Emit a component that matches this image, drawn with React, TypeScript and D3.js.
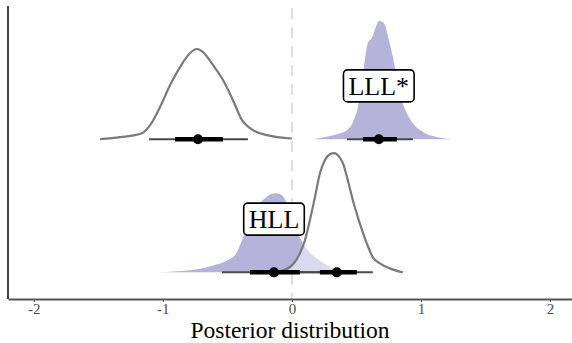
import { useEffect, useRef } from "react";
import * as d3 from "d3";

// rows on the y axis (0 = bottom)
const rowNames = ["HLL", "LLL*"];
const tickValues = [-2, -1, 0, 1, 2];
const tickLabels = ["-2", "-1", "0", "1", "2"];

// posterior densities: x in effect units, height in row units
const lllX = [0.163, 0.317, 0.426, 0.472, 0.511, 0.542, 0.565, 0.588, 0.619, 0.65, 0.673, 0.704, 0.728, 0.751, 0.782, 0.813, 0.851, 0.89, 0.937, 1.006, 1.091, 1.238];
const lllD = [0, 0.03, 0.068, 0.128, 0.241, 0.421, 0.594, 0.722, 0.759, 0.842, 0.887, 0.88, 0.835, 0.744, 0.617, 0.459, 0.293, 0.195, 0.12, 0.06, 0.023, 0];

const lllRefX = [-1.486, -1.331, -1.161, -1.099, -1.022, -0.944, -0.867, -0.789, -0.735, -0.689, -0.611, -0.534, -0.457, -0.387, -0.325, -0.194, 0];
const lllRefD = [0, 0.015, 0.045, 0.105, 0.241, 0.406, 0.541, 0.647, 0.677, 0.654, 0.556, 0.444, 0.293, 0.143, 0.083, 0.03, 0.005];

const hllX = [-1.045, -0.789, -0.658, -0.58, -0.503, -0.441, -0.387, -0.325, -0.271, -0.209, -0.132, -0.077, -0.039, 0, 0.039, 0.085, 0.139, 0.201, 0.271, 0.372, 0.488];
const hllD = [0, 0.015, 0.038, 0.06, 0.09, 0.128, 0.241, 0.391, 0.489, 0.556, 0.594, 0.579, 0.519, 0.429, 0.316, 0.218, 0.15, 0.098, 0.053, 0.015, 0];

const hllRefX = [-0.17, -0.093, 0.008, 0.062, 0.101, 0.139, 0.178, 0.217, 0.255, 0.294, 0.325, 0.356, 0.395, 0.433, 0.472, 0.526, 0.58, 0.627, 0.681, 0.759, 0.859];
const hllRefD = [0, 0.008, 0.06, 0.143, 0.241, 0.391, 0.564, 0.744, 0.842, 0.887, 0.895, 0.88, 0.82, 0.692, 0.541, 0.368, 0.218, 0.113, 0.068, 0.03, 0];

// intervals: [lo95, lo66, median, hi66, hi95]
const lllInterval = [0.426, 0.55, 0.673, 0.813, 0.937];
const lllRefInterval = [-1.107, -0.906, -0.728, -0.534, -0.341];
const hllInterval = [-0.542, -0.325, -0.139, 0.062, 0.24];
const hllRefInterval = [0.06, 0.217, 0.348, 0.503, 0.627];

const W = 572, H = 343;
const font = "'Liberation Serif', 'Times New Roman', serif";

const App = () => {
  const svgRef = useRef<SVGSVGElement>(null);

  useEffect(() => {
    if (!svgRef.current) return;
    const svg = d3.select(svgRef.current);
    svg.selectAll("*").remove();

    const m = { top: 6, right: 0, bottom: 44, left: 8 };
    const x = d3.scaleLinear().domain([-2.2, 2.17]).range([m.left, W - m.right]);
    const y = d3.scaleLinear().domain([-0.2, 2.0]).range([H - m.bottom, m.top]);

    // zero reference line
    svg.append("line")
      .attr("x1", x(0)).attr("x2", x(0))
      .attr("y1", m.top).attr("y2", H - m.bottom)
      .attr("stroke", "#dedede")
      .attr("stroke-width", 2)
      .attr("stroke-dasharray", "11 8")
      .attr("stroke-dashoffset", -2);

    const area = (row: number) => d3.area<[number, number]>()
      .x((d) => x(d[0]))
      .y0(y(row))
      .y1((d) => y(row + d[1]))
      .curve(d3.curveMonotoneX);
    const line = (row: number) => d3.line<[number, number]>()
      .x((d) => x(d[0]))
      .y((d) => y(row + d[1]))
      .curve(d3.curveMonotoneX);

    const purple = (xs: number[], ds: number[], row: number) => {
      const pts = xs.map((v, i) => [v, ds[i]] as [number, number]);
      svg.append("path").datum(pts).attr("d", area(row)).attr("fill", "#b4b3da");
    };
    const outline = (xs: number[], ds: number[], row: number) => {
      const pts = xs.map((v, i) => [v, ds[i]] as [number, number]);
      svg.append("path").datum(pts).attr("d", area(row))
        .attr("fill", "#ffffff").attr("fill-opacity", 0.5);
      svg.append("path").datum(pts).attr("d", line(row))
        .attr("fill", "none").attr("stroke", "#7a7a7a").attr("stroke-width", 2.2);
    };

    purple(lllX, lllD, 1);
    outline(lllRefX, lllRefD, 1);
    purple(hllX, hllD, 0);
    outline(hllRefX, hllRefD, 0);

    const interval = (iv: number[], row: number) => {
      const g = svg.append("g");
      g.append("line")
        .attr("x1", x(iv[0])).attr("x2", x(iv[4]))
        .attr("y1", y(row)).attr("y2", y(row))
        .attr("stroke", "#4a4a4a").attr("stroke-width", 2);
      g.append("line")
        .attr("x1", x(iv[1])).attr("x2", x(iv[3]))
        .attr("y1", y(row)).attr("y2", y(row))
        .attr("stroke", "#000").attr("stroke-width", 4.5);
      g.append("circle")
        .attr("cx", x(iv[2])).attr("cy", y(row))
        .attr("r", 5).attr("fill", "#000");
    };
    interval(lllRefInterval, 1);
    interval(lllInterval, 1);
    interval(hllInterval, 0);
    interval(hllRefInterval, 0);

    // labels
    const label = (text: string, xv: number, row: number) => {
      const g = svg.append("g");
      const cy = y(row + 0.4);
      const t = g.append("text")
        .attr("x", x(xv)).attr("y", cy + 9)
        .attr("text-anchor", "middle")
        .attr("font-family", font)
        .attr("font-size", 26)
        .attr("fill", "#000")
        .text(text);
      const bb = (t.node() as SVGTextElement).getBBox();
      g.insert("rect", "text")
        .attr("x", bb.x - 5).attr("width", bb.width + 10)
        .attr("y", cy - 16).attr("height", 32)
        .attr("rx", 4)
        .attr("fill", "#fff")
        .attr("stroke", "#000")
        .attr("stroke-width", 1.6);
    };
    label(rowNames[1], lllInterval[2], 1);
    label(rowNames[0], hllInterval[2], 0);

    // axes
    svg.append("line")
      .attr("x1", m.left).attr("x2", m.left)
      .attr("y1", m.top).attr("y2", H - m.bottom)
      .attr("stroke", "#000").attr("stroke-width", 1.5);

    const xAxis = svg.append("g")
      .attr("transform", `translate(0,${H - m.bottom})`)
      .call(
        d3.axisBottom(x)
          .tickValues(tickValues)
          .tickFormat((_, i) => tickLabels[i])
          .tickSize(3)
          .tickPadding(1)
          .tickSizeOuter(0)
      );
    xAxis.select(".domain").attr("stroke", "#555").attr("stroke-width", 2);
    xAxis.selectAll(".tick line").attr("stroke", "#555").attr("stroke-width", 1);
    xAxis.selectAll(".tick text")
      .attr("font-family", font)
      .attr("font-size", 15)
      .attr("fill", "#4d4d4d");

    svg.append("text")
      .attr("x", (m.left + W - m.right) / 2)
      .attr("y", 337.5)
      .attr("text-anchor", "middle")
      .attr("font-family", font)
      .attr("font-size", 23.5)
      .attr("fill", "#000")
      .text("Posterior distribution");
  }, []);

  return (
    <svg
      ref={svgRef}
      width={W}
      height={H}
      style={{ position: "absolute", left: 0, top: 0, background: "#fff" }}
    />
  );
};

export default App;
